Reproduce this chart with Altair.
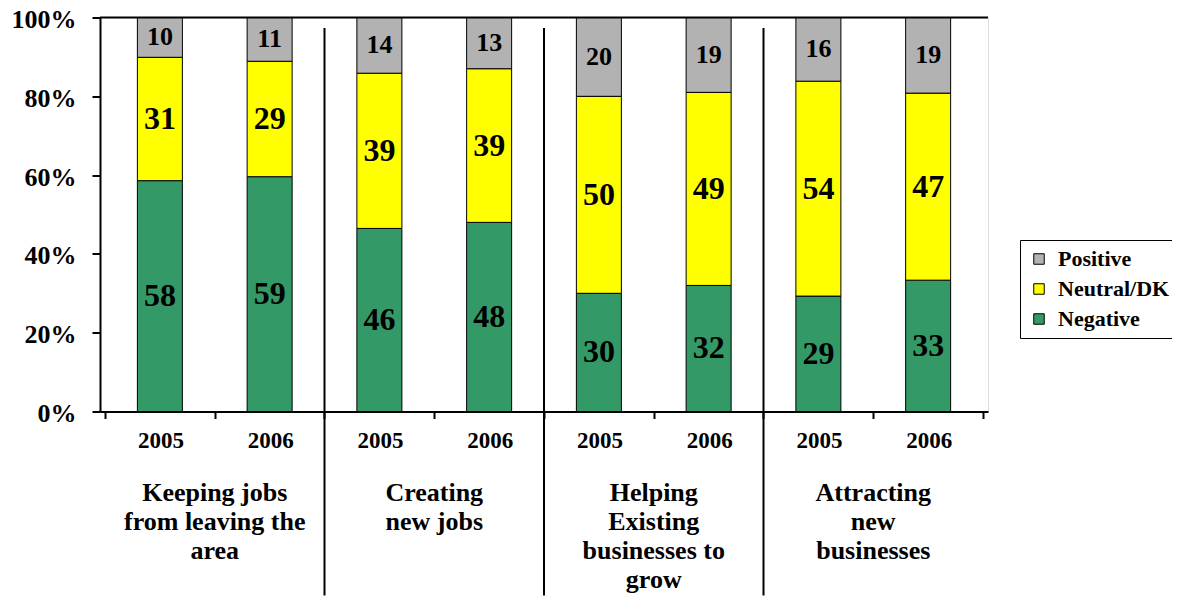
import altair as alt
import pandas as pd

groups = ["Keeping jobs\nfrom leaving the\narea", "Creating\nnew jobs",
          "Helping\nExisting\nbusinesses to\ngrow", "Attracting\nnew\nbusinesses"]
years = ["2005", "2006"]
series = ["Negative", "Neutral/DK", "Positive"]
negative = [58, 59, 46, 48, 30, 32, 29, 33]
neutral = [31, 29, 39, 39, 50, 49, 54, 47]
positive = [10, 11, 14, 13, 20, 19, 16, 19]
legend_order = ["Positive", "Neutral/DK", "Negative"]
legend_colors = ["#B2B2B2", "#FFFF00", "#339966"]

n = len(negative)
rows = []
for i in range(n):
    for k, (name, vals) in enumerate(zip(series, [negative, neutral, positive])):
        rows.append({"bar": i, "pos": i + 0.5, "series": name, "order": k, "value": vals[i]})
df = pd.DataFrame(rows)

per = len(years)
gdf = pd.DataFrame({"group": groups, "center": [per * i + per / 2 for i in range(len(groups))]})
sep = pd.DataFrame({"b": [per * i for i in range(1, len(groups))]})
top = pd.DataFrame({"t": [1.0]})

W, H = 888, 394
FONT = "Liberation Serif"

year_js = "[" + ",".join("'%s'" % y for y in years) + "]"
xscale = alt.Scale(domain=[0, n], nice=False, zero=False)
yscale = alt.Scale(domain=[0, 1], nice=False)

x_axis = alt.Axis(values=list(range(n + 1)),
                  labelExpr="datum.value >= %d ? '' : %s[datum.value %% %d]" % (n, year_js, per),
                  labelOffset=W / n / 2, labelFlush=False, labelOverlap=False,
                  tickSize=7, tickWidth=2, tickColor="black",
                  domainWidth=2, domainColor="black", grid=False, title=None,
                  labelFont=FONT, labelFontSize=23, labelFontWeight="bold",
                  labelColor="black", labelPadding=11)
y_axis = alt.Axis(values=[0, 0.2, 0.4, 0.6, 0.8, 1.0], format=".0%",
                  tickSize=8, tickWidth=2, tickColor="black",
                  domainWidth=2, domainColor="black", grid=False, title=None,
                  labelFont=FONT, labelFontSize=26, labelFontWeight="bold",
                  labelColor="black", labelPadding=16, labelOffset=2)

base = alt.Chart(df).transform_stack(
    stack="value", groupby=["bar"], as_=["y0", "y1"], offset="normalize",
    sort=[alt.SortField("order", order="ascending")]
).transform_calculate(mid="(datum.y0 + datum.y1) / 2")

bars = base.mark_bar(size=45, stroke="black", strokeWidth=1).encode(
    x=alt.X("pos:Q", scale=xscale, axis=x_axis),
    y=alt.Y("y1:Q", scale=yscale, axis=y_axis),
    y2="y0:Q",
    color=alt.Color("series:N",
                    scale=alt.Scale(domain=legend_order, range=legend_colors),
                    legend=alt.Legend(title=None, orient="none", legendX=920, legendY=222.5,
                                      direction="vertical", strokeColor="black", fillColor="white",
                                      padding=8, symbolType="square", symbolSize=110,
                                      symbolStrokeColor="black", symbolStrokeWidth=1,
                                      labelFont=FONT, labelFontSize=22, labelFontWeight="bold",
                                      labelColor="black", rowPadding=8, labelOffset=8)),
)

labels_big = base.transform_filter("datum.series != 'Positive'").mark_text(
    font=FONT, fontSize=32, fontWeight="bold", color="black", baseline="middle"
).encode(x="pos:Q", y="mid:Q", text="value:Q")

labels_small = base.transform_filter("datum.series == 'Positive'").mark_text(
    font=FONT, fontSize=26, fontWeight="bold", color="black", baseline="middle"
).encode(x="pos:Q", y="mid:Q", text="value:Q")

top_line = alt.Chart(top).mark_rule(color="black", strokeWidth=2).encode(y="t:Q")

separators = alt.Chart(sep).mark_rule(color="black", strokeWidth=2).encode(
    x="b:Q", y=alt.value(10.5), y2=alt.value(H + 184))

group_labels = alt.Chart(gdf).mark_text(
    font=FONT, fontSize=26, fontWeight="bold", color="black", baseline="top",
    align="center", lineBreak="\n", lineHeight=29
).encode(x="center:Q", y=alt.value(H + 68), text="group:N")

chart = alt.layer(bars, labels_big, labels_small, top_line, separators, group_labels).properties(
    width=W, height=H,
    padding={"left": 92, "top": 9.5, "right": 184, "bottom": 184},
    autosize=alt.AutoSizeParams(type="none"),
).configure_view(strokeWidth=0).configure(font=FONT)

chart.save("out.html", embed_options={"renderer": "svg", "actions": False})
